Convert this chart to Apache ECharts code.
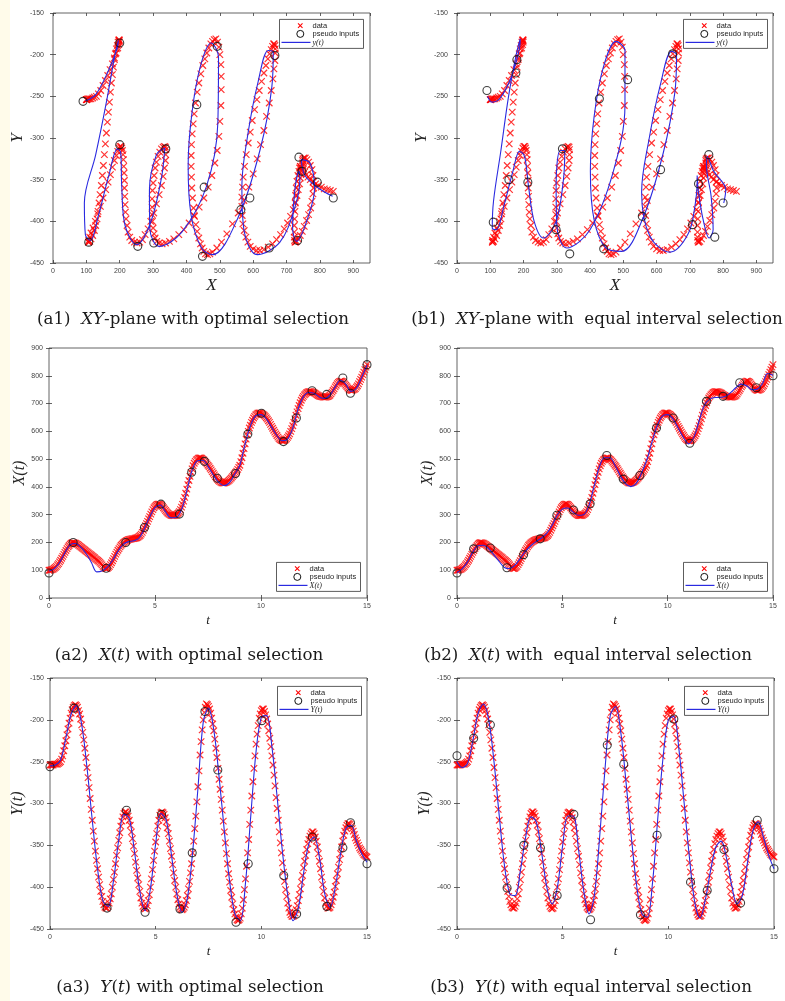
<!DOCTYPE html>
<html>
<head>
<meta charset="utf-8">
<script src="https://cdn.jsdelivr.net/npm/echarts@6/dist/echarts.min.js"></script>
<style>
  html, body { margin: 0; padding: 0; background: #ffffff; }
  #c { width: 785px; height: 1001px; }
</style>
</head>
<body>
<div id="c"></div>
<script>
// Handwritten "hello" trajectory sampled every DATA_STEP in t (t = 0 .. 15)
const DATA_STEP = 0.05;
const X_DATA = [
  100, 100, 101, 102, 104, 107, 110, 114, 119, 124,
  130, 136, 143, 150, 157, 164, 171, 178, 184, 189,
  194, 197, 199, 199, 198, 197, 195, 193, 190, 187,
  184, 181, 178, 175, 172, 169, 166, 163, 160, 157,
  154, 151, 148, 145, 141, 138, 135, 132, 128, 124,
  119, 114, 110, 107, 106, 107, 110, 114, 120, 127,
  134, 142, 150, 158, 165, 172, 178, 184, 190, 194,
  198, 201, 204, 206, 208, 210, 211, 212, 213, 214,
  214, 215, 216, 217, 219, 222, 225, 230, 236, 244,
  252, 260, 268, 276, 285, 293, 302, 310, 318, 325,
  330, 334, 337, 338, 338, 337, 334, 330, 325, 320,
  315, 310, 306, 303, 300, 298, 297, 297, 297, 298,
  300, 303, 306, 311, 318, 327, 337, 349, 362, 377,
  392, 408, 423, 438, 452, 465, 476, 485, 492, 497,
  500, 503, 504, 504, 503, 500, 497, 493, 488, 483,
  478, 473, 467, 461, 455, 449, 443, 437, 432, 427,
  423, 420, 417, 415, 414, 414, 415, 416, 418, 421,
  424, 428, 432, 437, 442, 447, 452, 457, 463, 470,
  478, 491, 505, 521, 538, 555, 572, 587, 600, 612,
  622, 632, 640, 648, 654, 659, 662, 665, 666, 666,
  665, 663, 661, 658, 654, 649, 644, 638, 632, 625,
  618, 611, 604, 597, 591, 585, 579, 574, 570, 568,
  566, 566, 567, 569, 573, 578, 584, 591, 600, 610,
  620, 632, 645, 658, 670, 682, 693, 703, 712, 720,
  726, 731, 735, 739, 741, 743, 743, 743, 742, 741,
  739, 737, 734, 731, 729, 727, 726, 725, 724, 723,
  723, 723, 724, 725, 727, 730, 735, 741, 747, 753,
  760, 766, 772, 776, 779, 781, 781, 779, 776, 771,
  766, 761, 756, 752, 749, 748, 748, 749, 751, 754,
  759, 764, 771, 779, 787, 795, 804, 813, 822, 831,
  840
];
const Y_DATA = [
  -254, -254, -254, -254, -253, -253, -253, -253, -252, -251,
  -250, -247, -243, -237, -231, -225, -218, -211, -204, -198,
  -192, -188, -185, -183, -182, -183, -185, -189, -193, -199,
  -206, -215, -224, -234, -245, -257, -269, -281, -294, -307,
  -320, -333, -345, -357, -368, -378, -388, -397, -405, -411,
  -417, -421, -424, -425, -425, -423, -419, -414, -408, -400,
  -391, -382, -372, -362, -353, -344, -335, -327, -321, -316,
  -312, -310, -310, -312, -315, -320, -326, -334, -342, -351,
  -360, -370, -380, -389, -397, -405, -413, -419, -423, -425,
  -426, -425, -422, -416, -409, -400, -390, -379, -368, -357,
  -346, -336, -327, -320, -314, -311, -310, -311, -313, -317,
  -322, -329, -336, -345, -354, -363, -373, -383, -392, -400,
  -408, -415, -420, -424, -426, -427, -426, -424, -421, -416,
  -410, -402, -393, -383, -372, -359, -345, -330, -315, -298,
  -280, -261, -242, -226, -212, -200, -191, -185, -181, -182,
  -184, -187, -192, -198, -205, -213, -223, -234, -245, -258,
  -271, -283, -295, -308, -321, -334, -347, -360, -372, -384,
  -394, -404, -412, -420, -427, -432, -436, -439, -440, -439,
  -437, -432, -425, -415, -403, -390, -375, -359, -343, -325,
  -308, -291, -274, -258, -243, -229, -217, -207, -198, -193,
  -189, -187, -187, -190, -194, -199, -205, -213, -222, -232,
  -243, -254, -266, -279, -293, -306, -320, -334, -347, -359,
  -371, -382, -393, -403, -411, -419, -425, -430, -433, -435,
  -435, -434, -431, -427, -422, -416, -409, -402, -394, -386,
  -377, -369, -362, -355, -348, -343, -339, -336, -334, -334,
  -336, -340, -345, -352, -360, -369, -378, -388, -397, -405,
  -413, -419, -423, -425, -425, -424, -421, -417, -412, -406,
  -399, -392, -384, -376, -367, -360, -352, -345, -338, -333,
  -329, -326, -324, -324, -325, -327, -330, -333, -337, -341,
  -344, -347, -350, -353, -355, -357, -359, -361, -362, -363,
  -364
];

// Fitted mean curves, sampled every FIT_STEP in t
const FIT_STEP = 0.25;
const X_FIT_OPT = [
  97, 106, 128, 163,   192, 196, 183, 160,   128, 94, 97, 112,
  136, 168, 193, 203,  206, 216, 250, 292,   325, 335, 310, 289,
  290, 318, 386, 460,  494, 496, 474, 443,   417, 405, 414, 445,
  478, 555, 620, 656,  660, 645, 615, 585,   566, 572, 612, 680,
  725, 740, 737, 724,  718, 730, 760, 784,   770, 744, 755, 795,
  838
];
const Y_FIT_OPT = [
  -255, -254, -248, -222,  -193, -183, -206, -257,  -320, -378, -416, -423,
  -393, -344, -313, -318,  -358, -405, -428, -402,  -348, -312, -320, -362,
  -408, -430, -413, -358,  -282, -203, -186, -212,  -268, -333, -393, -432,
  -440, -395, -315, -238,  -197, -195, -232, -293,  -358, -410, -440, -425,
  -383, -348, -340, -365,  -408, -424, -400, -360,  -330, -326, -345, -360,
  -370
];
const X_FIT_EQ = [
  92, 105, 130, 165,   188, 190, 178, 155,   132, 110, 106, 118,
  142, 168, 188, 203,  215, 232, 260, 298,   320, 324, 310, 298,
  300, 330, 400, 470,  505, 505, 478, 440,   412, 401, 412, 448,
  495, 560, 620, 655,  660, 645, 612, 578,   555, 580, 640, 695,
  716, 722, 722, 726,  740, 758, 770, 764,   750, 752, 772, 808,
  802
];
const Y_FIT_EQ = [
  -250, -257, -252, -225,  -192, -181, -200, -250,  -315, -375, -408, -410,
  -380, -340, -316, -322,  -358, -400, -420, -400,  -350, -315, -315, -355,
  -405, -432, -410, -340,  -260, -195, -184, -215,  -275, -340, -398, -432,
  -436, -395, -318, -245,  -200, -196, -235, -300,  -365, -418, -437, -415,
  -380, -352, -345, -365,  -398, -420, -410, -370,  -333, -322, -340, -362,
  -378
];

// Pseudo inputs: optimal selection
const PSEUDO_OPT_T = [0, 1.14, 2.70, 3.62, 4.50, 5.28, 6.15, 6.73, 7.33, 7.94, 8.80, 9.38, 10.02, 11.06, 11.67, 12.41, 13.10, 13.86, 14.22, 15.0];
const PSEUDO_OPT_X = [90, 200, 107, 200, 254, 338, 302, 453, 492, 431, 448, 590, 665, 563, 648, 746, 733, 792, 737, 840];
const PSEUDO_OPT_Y = [-256, -186, -425, -308, -430, -313, -426, -359, -190, -260, -442, -372, -201, -386, -432, -340, -423, -353, -323, -372];

// Pseudo inputs: equal interval selection
const PSEUDO_EQ_T = [0, 0.79, 1.58, 2.37, 3.16, 3.95, 4.74, 5.53, 6.32, 7.11, 7.89, 8.68, 9.47, 10.26, 11.05, 11.84, 12.63, 13.42, 14.21, 15.0];
const PSEUDO_EQ_X = [90, 177, 180, 109, 156, 213, 298, 317, 339, 513, 428, 441, 612, 648, 557, 708, 726, 775, 757, 800];
const PSEUDO_EQ_Y = [-243, -222, -206, -401, -350, -353, -410, -313, -439, -230, -253, -433, -338, -199, -394, -404, -355, -419, -320, -378];

// Axis ranges [min, max, interval]
const RANGE_X_PLANE = [0, 950, 100];
const RANGE_Y_PLANE = [-450, -150, 50];
const RANGE_T = [0, 15, 5];
const RANGE_X_T = [0, 900, 100];

const LEGEND_LABELS = ['data', 'pseudo inputs'];

const tData = X_DATA.map((_, i) => +(i * DATA_STEP).toFixed(2));
const tFit = X_FIT_OPT.map((_, i) => +(i * FIT_STEP).toFixed(2));

const zip = (a, b) => a.map((v, i) => [v, b[i]]);

const PANELS = [
  { kind: 'xy', sel: 'opt', grid: { left: 53, top: 13, width: 317, height: 250 }, legend: [279, 19], fitLabel: 'y(t)' },
  { kind: 'xy', sel: 'eq',  grid: { left: 457, top: 13, width: 316, height: 250 }, legend: [683, 19], fitLabel: 'y(t)' },
  { kind: 'xt', sel: 'opt', grid: { left: 49, top: 348, width: 318, height: 250 }, legend: [276, 562], fitLabel: 'X(t)' },
  { kind: 'xt', sel: 'eq',  grid: { left: 457, top: 348, width: 316, height: 250 }, legend: [683, 562], fitLabel: 'X(t)' },
  { kind: 'yt', sel: 'opt', grid: { left: 50, top: 678, width: 317, height: 251 }, legend: [277, 686], fitLabel: 'Y(t)' },
  { kind: 'yt', sel: 'eq',  grid: { left: 457, top: 678, width: 317, height: 251 }, legend: [684, 686], fitLabel: 'Y(t)' }
];

const CAPTIONS = [
  { x: 193, y: 320, text: '(a1)  {i|XY}-plane with optimal selection' },
  { x: 597, y: 320, text: '(b1)  {i|XY}-plane with  equal interval selection' },
  { x: 189, y: 656, text: '(a2)  {i|X}({i|t}) with optimal selection' },
  { x: 588, y: 656, text: '(b2)  {i|X}({i|t}) with  equal interval selection' },
  { x: 190, y: 988, text: '(a3)  {i|Y}({i|t}) with optimal selection' },
  { x: 591, y: 988, text: '(b3)  {i|Y}({i|t}) with equal interval selection' }
];

const AXIS_COLOR = '#3c3c3c';
const LABEL_STYLE = { fontSize: 7, color: '#444', fontFamily: 'Liberation Sans' };
const NAME_FONT = 'Liberation Serif';
const CAPTION_SIZE = 16.7;
const X_MARK = 'path://M0,0L10,10M10,0L0,10';

function axisPair(dir, gridIndex, range, name, nameGap, nameSize, labelMargin, hideMax) {
  const common = {
    type: 'value', gridIndex, min: range[0], max: range[1], interval: range[2],
    axisLine: { show: false },
    axisTick: { inside: true, length: 3, lineStyle: { color: AXIS_COLOR, width: 0.8 } },
    splitLine: { show: false }
  };
  const main = Object.assign({}, common, {
    position: dir === 'x' ? 'bottom' : 'left',
    axisLabel: Object.assign({ margin: labelMargin, showMaxLabel: !hideMax }, LABEL_STYLE),
    name, nameLocation: 'middle', nameGap,
    nameTextStyle: { fontFamily: NAME_FONT, fontStyle: 'italic', fontSize: nameSize, color: '#222' }
  });
  const opp = Object.assign({}, common, {
    position: dir === 'x' ? 'top' : 'right',
    axisLabel: { show: false }
  });
  return [main, opp];
}

const grids = [], xAxes = [], yAxes = [], series = [], graphics = [];

graphics.push({ type: 'rect', left: 0, top: 0, shape: { width: 10, height: 1001 }, style: { fill: '#fffbea' }, silent: true });

PANELS.forEach((p, g) => {
  grids.push(Object.assign({ show: true, borderColor: AXIS_COLOR, borderWidth: 0.8, backgroundColor: '#fff' }, p.grid));
  let xr, yr, xName, yName, xGap, yGap, xSize, ySize, xMargin, yMargin, hideMax;
  if (p.kind === 'xy') {
    xr = RANGE_X_PLANE; yr = RANGE_Y_PLANE; xName = 'X'; yName = 'Y';
    xGap = 14; yGap = 24; xSize = 17; ySize = 17; xMargin = 5; yMargin = 9; hideMax = true;
  } else {
    xr = RANGE_T; yr = p.kind === 'xt' ? RANGE_X_T : RANGE_Y_PLANE;
    xName = 't'; yName = p.kind === 'xt' ? 'X(t)' : 'Y(t)';
    xGap = 16; yGap = 20; xSize = 13; ySize = 16; xMargin = 5; yMargin = 6; hideMax = false;
  }
  xAxes.push(...axisPair('x', g, xr, xName, xGap, xSize, xMargin, hideMax));
  yAxes.push(...axisPair('y', g, yr, yName, yGap, ySize, yMargin, false));
  const xi = 2 * g, yi = 2 * g;

  const pT = p.sel === 'opt' ? PSEUDO_OPT_T : PSEUDO_EQ_T;
  const pX = p.sel === 'opt' ? PSEUDO_OPT_X : PSEUDO_EQ_X;
  const pY = p.sel === 'opt' ? PSEUDO_OPT_Y : PSEUDO_EQ_Y;
  const fX = p.sel === 'opt' ? X_FIT_OPT : X_FIT_EQ;
  const fY = p.sel === 'opt' ? Y_FIT_OPT : Y_FIT_EQ;

  let dataPts, pseudoPts, fitPts;
  if (p.kind === 'xy') {
    dataPts = zip(X_DATA, Y_DATA); pseudoPts = zip(pX, pY); fitPts = zip(fX, fY);
  } else if (p.kind === 'xt') {
    dataPts = zip(tData, X_DATA); pseudoPts = zip(pT, pX); fitPts = zip(tFit, fX);
  } else {
    dataPts = zip(tData, Y_DATA); pseudoPts = zip(pT, pY); fitPts = zip(tFit, fY);
  }

  series.push({
    type: 'scatter', name: 'data', xAxisIndex: xi, yAxisIndex: yi, data: dataPts,
    symbol: X_MARK, symbolSize: 6.5, z: 2, silent: true, large: false,
    itemStyle: { color: 'none', borderColor: '#ff0000', borderWidth: 1.2 }
  });
  series.push({
    type: 'line', name: p.fitLabel, xAxisIndex: xi, yAxisIndex: yi, data: fitPts,
    showSymbol: false, smooth: 0.35, z: 3, silent: true,
    lineStyle: { color: '#2a2ae0', width: 1.1 }
  });
  series.push({
    type: 'scatter', name: 'pseudo inputs', xAxisIndex: xi, yAxisIndex: yi, data: pseudoPts,
    symbol: 'circle', symbolSize: 8, z: 4, silent: true,
    itemStyle: { color: 'rgba(0,0,0,0)', borderColor: '#111', borderWidth: 1.1 }
  });

  // legend box
  const [lx, ly] = p.legend;
  const txt = (y, s, italic) => ({
    type: 'text', x: 33, y,
    style: {
      text: s, fill: '#222', verticalAlign: 'middle',
      font: italic ? 'italic 8px "Liberation Serif"' : '7.5px "Liberation Sans"'
    }
  });
  graphics.push({
    type: 'group', left: lx, top: ly, silent: true, z: 100,
    children: [
      { type: 'rect', shape: { x: 0, y: 0, width: 84, height: 29 }, style: { fill: '#fff', stroke: '#333', lineWidth: 0.8 } },
      { type: 'line', shape: { x1: 18.5, y1: 4, x2: 23, y2: 8.5 }, style: { stroke: '#ff0000', lineWidth: 1.1 } },
      { type: 'line', shape: { x1: 23, y1: 4, x2: 18.5, y2: 8.5 }, style: { stroke: '#ff0000', lineWidth: 1.1 } },
      { type: 'circle', shape: { cx: 20.8, cy: 14.5, r: 3.5 }, style: { fill: 'none', stroke: '#111', lineWidth: 1 } },
      { type: 'line', shape: { x1: 2, y1: 23, x2: 31, y2: 23 }, style: { stroke: '#2a2ae0', lineWidth: 1.2 } },
      txt(6.3, LEGEND_LABELS[0], false),
      txt(14.5, LEGEND_LABELS[1], false),
      txt(23, p.fitLabel, true)
    ]
  });
});

CAPTIONS.forEach(c => {
  graphics.push({
    type: 'text', x: c.x, y: c.y, silent: true,
    style: {
      text: c.text, fill: '#1a1a1a', align: 'center', verticalAlign: 'middle',
      font: CAPTION_SIZE + 'px "DejaVu Serif"',
      rich: { i: { fontStyle: 'italic', fontFamily: 'DejaVu Serif', fontSize: CAPTION_SIZE } }
    }
  });
});

const chart = echarts.init(document.getElementById('c'), null, { renderer: 'canvas' });
chart.setOption({
  animation: false,
  backgroundColor: '#ffffff',
  grid: grids,
  xAxis: xAxes,
  yAxis: yAxes,
  series,
  graphic: graphics
});
</script>
</body>
</html>
